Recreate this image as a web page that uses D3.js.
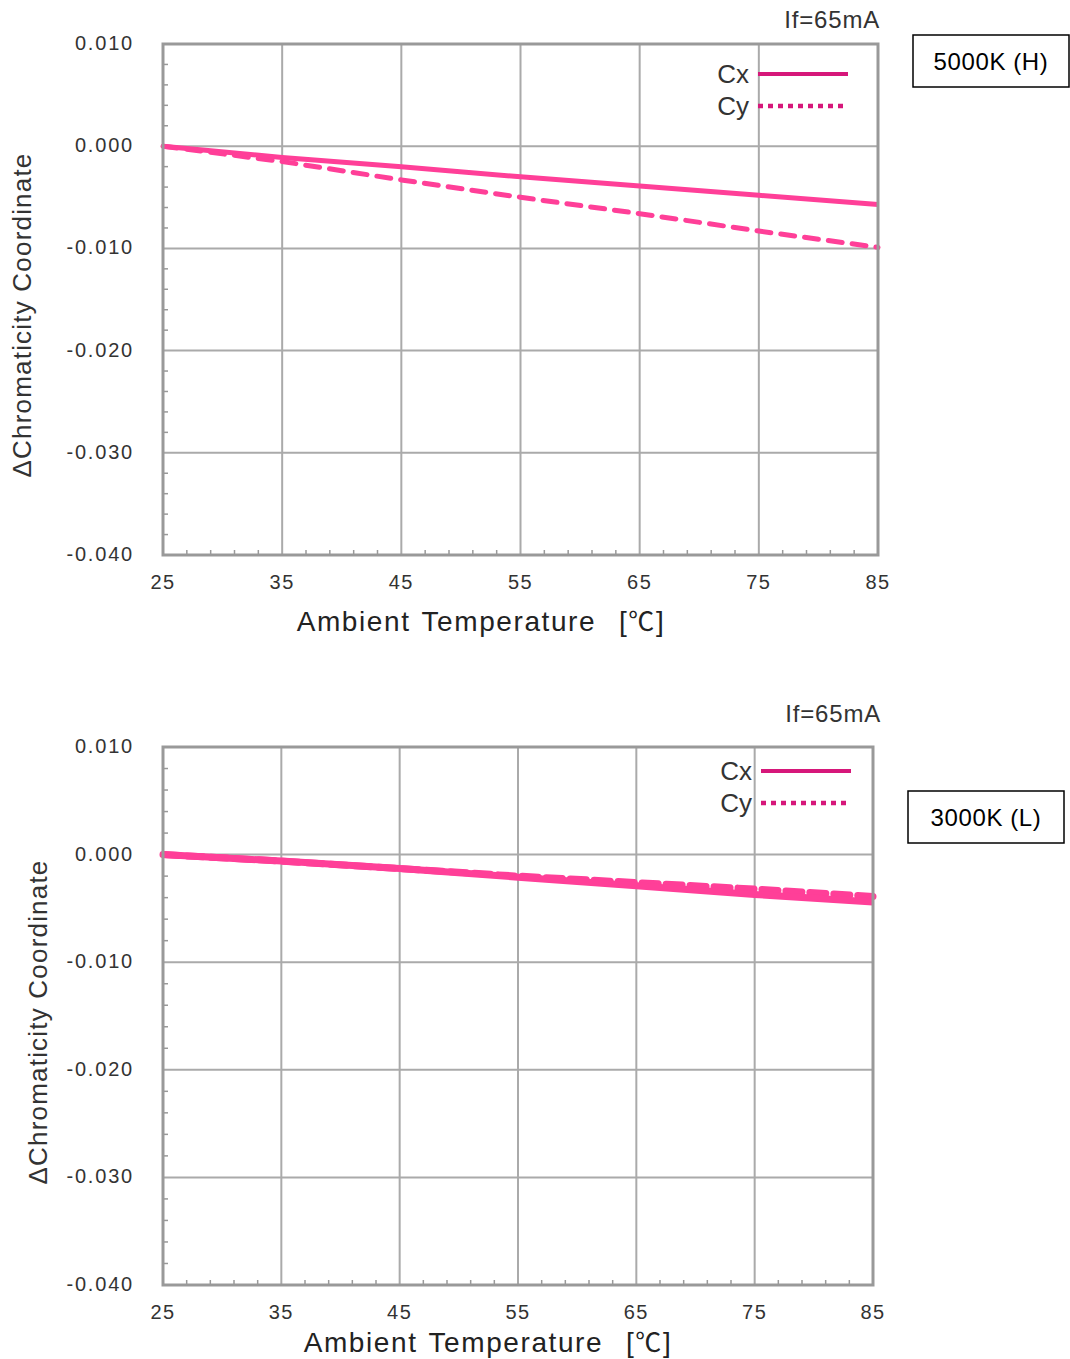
<!DOCTYPE html>
<html><head><meta charset="utf-8">
<script src="https://cdn.jsdelivr.net/npm/d3@7"></script>
<style>
body{margin:0;background:#fff;}
text{font-family:"Liberation Sans",Arial,sans-serif;}
</style></head>
<body><svg id="c" width="1070" height="1359"></svg>
<script>
const temps = [25, 35, 45, 55, 65, 75, 85];
const xTicks = [25, 35, 45, 55, 65, 75, 85];
const yTicks = [0.010, 0.000, -0.010, -0.020, -0.030, -0.040];
const cxH = [0, -0.0011, -0.0020, -0.0030, -0.0039, -0.0048, -0.0057];
const cyH = [0, -0.0015, -0.0033, -0.0050, -0.0066, -0.0083, -0.0099];
const cxL = [0, -0.0006, -0.0013, -0.0021, -0.0029, -0.0037, -0.0044];
const cyL = [0, -0.0006, -0.0013, -0.0020, -0.0026, -0.0032, -0.0039];
const seriesNames = ["Cx", "Cy"];
const currentLabel = "If=65mA";
const xTitle = "Ambient Temperature  [";
const xTitleUnit = "℃";
const yTitle = "ΔChromaticity Coordinate";

const svg = d3.select("#c");

function drawChart(o){
  const g = svg.append("g");
  const x = d3.scaleLinear().domain([25,85]).range([o.x0,o.x1]);
  const y = d3.scaleLinear().domain([-0.040,0.010]).range([o.y1,o.y0]);
  g.selectAll(".vg").data(xTicks.slice(1,-1)).join("line")
    .attr("x1",d=>x(d)).attr("x2",d=>x(d)).attr("y1",o.y0).attr("y2",o.y1)
    .attr("stroke","#aaa").attr("stroke-width",2);
  g.selectAll(".hg").data(yTicks.slice(1,-1)).join("line")
    .attr("y1",d=>y(d)).attr("y2",d=>y(d)).attr("x1",o.x0).attr("x2",o.x1)
    .attr("stroke","#aaa").attr("stroke-width",2);
  const xm = d3.range(25,85.01,2).filter(v=>(v-25)%10!==0);
  g.selectAll(".xm").data(xm).join("line")
    .attr("x1",d=>x(d)).attr("x2",d=>x(d)).attr("y1",o.y1).attr("y2",o.y1-5)
    .attr("stroke","#999").attr("stroke-width",1.5);
  const ym = d3.range(0,26).map(i=>-0.040+i*0.002).filter((v,i)=>i%5!==0);
  g.selectAll(".ym").data(ym).join("line")
    .attr("y1",d=>y(d)).attr("y2",d=>y(d)).attr("x1",o.x0).attr("x2",o.x0+5)
    .attr("stroke","#999").attr("stroke-width",1.5);
  const line = d3.line().x((d,i)=>x(temps[i])).y(d=>y(d));
  g.append("path").datum(o.cy).attr("d",line).attr("fill","none")
    .attr("stroke","#ff3f98").attr("stroke-width",o.lw)
    .attr("stroke-dasharray",o.dash).attr("stroke-linecap","round");
  g.append("path").datum(o.cx).attr("d",line).attr("fill","none")
    .attr("stroke","#ff3f98").attr("stroke-width",o.lw);
  g.append("rect").attr("x",o.x0).attr("y",o.y0).attr("width",o.x1-o.x0).attr("height",o.y1-o.y0)
    .attr("fill","none").attr("stroke","#999").attr("stroke-width",3);
  g.selectAll(".xl").data(xTicks).join("text")
    .attr("x",d=>x(d)).attr("y",o.y1+34).attr("text-anchor","middle")
    .attr("font-size",20).attr("letter-spacing",1.5).attr("fill","#333").text(d=>d);
  g.selectAll(".yl").data(yTicks).join("text")
    .attr("x",134).attr("y",d=>y(d)+6).attr("text-anchor","end")
    .attr("font-size",20).attr("letter-spacing",1.8).attr("fill","#333").text(d=>d3.format(".3f")(d).replace("−","-"));
  const xt = g.append("text").attr("x",o.xtx).attr("y",o.xty).attr("text-anchor","middle")
    .attr("font-size",28).attr("letter-spacing",1.6).attr("word-spacing",2).attr("fill","#222").style("white-space","pre");
  xt.append("tspan").text(xTitle);
  xt.append("tspan").style("font-family","'Noto Sans CJK JP'").attr("font-size",26).text(xTitleUnit);
  xt.append("tspan").text("]");
  g.append("text").attr("transform",`translate(${o.ytx},${o.yty}) rotate(-90)`)
    .attr("text-anchor","middle").attr("font-size",26).attr("letter-spacing",1.2).attr("fill","#333").text(yTitle);
  g.append("text").attr("x",o.ifx).attr("y",o.ify).attr("text-anchor","end")
    .attr("font-size",24).attr("letter-spacing",0.8).attr("fill","#333").text(currentLabel);
  seriesNames.forEach((n,i)=>{
    const ly = o.legY + i*32;
    g.append("text").attr("x",o.legX-9).attr("y",ly+9).attr("text-anchor","end")
      .attr("font-size",26).attr("fill","#333").text(n);
    g.append("line").attr("x1",o.legX).attr("x2",o.legX+90).attr("y1",ly).attr("y2",ly)
      .attr("stroke","#d6177a").attr("stroke-width",i===0?4:4.5)
      .attr("stroke-dasharray",i===0?null:"5,5");
  });
  g.append("rect").attr("x",o.bx).attr("y",o.by).attr("width",156).attr("height",52)
    .attr("fill","#fff").attr("stroke","#000").attr("stroke-width",1.5);
  g.append("text").attr("x",o.bx+78).attr("y",o.by+35).attr("text-anchor","middle")
    .attr("font-size",24).attr("letter-spacing",0.6).attr("fill","#000").text(o.box);
}

drawChart({x0:163,x1:878,y0:44,y1:555,cx:cxH,cy:cyH,lw:5,dash:"14,10",
  xtx:481,xty:631,ytx:31,yty:315,ifx:880,ify:28,legX:758,legY:74,
  bx:913,by:35,box:"5000K (H)"});
drawChart({x0:163,x1:873,y0:747,y1:1285,cx:cxL,cy:cyL,lw:7,dash:"16,8",
  xtx:488,xty:1352,ytx:47,yty:1022,ifx:881,ify:722,legX:761,legY:771,
  bx:908,by:791,box:"3000K (L)"});
</script></body></html>
